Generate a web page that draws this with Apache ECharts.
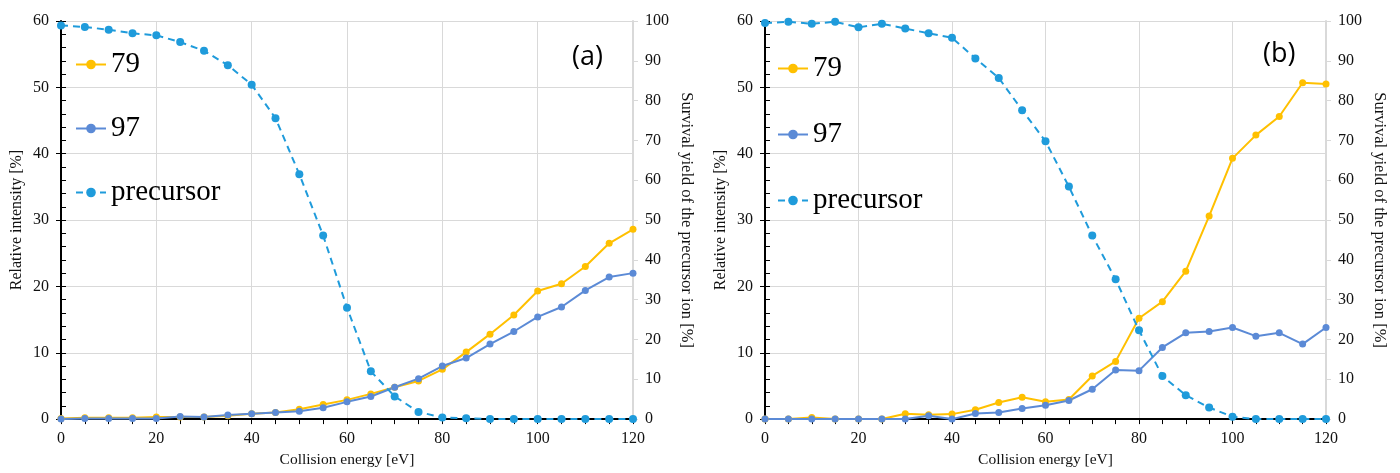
<!DOCTYPE html>
<html>
<head>
<meta charset="utf-8">
<script src="https://cdn.jsdelivr.net/npm/echarts@6/dist/echarts.min.js"></script>
<style>
  html, body { margin: 0; padding: 0; background: #fff; }
  #chart { width: 1400px; height: 473px; }
</style>
</head>
<body>
<div id="chart"></div>
<script>
  // collision energy [eV]
  const energy = [0, 5, 10, 15, 20, 25, 30, 35, 40, 45, 50, 55, 60, 65, 70, 75, 80, 85, 90, 95, 100, 105, 110, 115, 120];

  // panel (a)
  const a79 = [0.1, 0.2, 0.2, 0.2, 0.3, 0.3, 0.3, 0.5, 0.8, 1.0, 1.5, 2.2, 2.9, 3.8, 4.8, 5.75, 7.5, 10.1, 12.8, 15.7, 19.3, 20.4, 23.0, 26.5, 28.6];
  const a97 = [0.0, 0.1, 0.1, 0.1, 0.1, 0.4, 0.3, 0.6, 0.8, 1.0, 1.2, 1.7, 2.6, 3.4, 4.8, 6.1, 8.0, 9.2, 11.3, 13.2, 15.4, 16.9, 19.4, 21.4, 22.0];
  const aPrecursor = [98.9, 98.5, 97.8, 96.9, 96.4, 94.7, 92.5, 88.9, 84.0, 75.6, 61.5, 46.1, 28.0, 12.0, 5.7, 1.8, 0.4, 0.2, 0, 0, 0, 0, 0, 0, 0];

  // panel (b)
  const b79 = [0, 0, 0.25, 0, 0, 0, 0.8, 0.65, 0.75, 1.4, 2.5, 3.3, 2.6, 2.95, 6.5, 8.7, 15.2, 17.7, 22.3, 30.6, 39.3, 42.8, 45.6, 50.7, 50.5];
  const b97 = [0, 0, 0, 0, 0, 0, 0, 0.5, 0, 0.85, 1.0, 1.6, 2.1, 2.8, 4.5, 7.4, 7.3, 10.8, 13.0, 13.2, 13.8, 12.5, 13.0, 11.3, 13.8];
  const bPrecursor = [99.5, 99.8, 99.3, 99.8, 98.4, 99.3, 98.1, 96.9, 95.8, 90.6, 85.7, 77.6, 69.8, 58.4, 46.1, 35.1, 22.3, 10.8, 6.0, 2.9, 0.6, 0, 0, 0, 0];

  const seriesNames = ['79', '97', 'precursor'];
  const colors = ['#ffc000', '#5b8ad6', '#1f9bdb'];

  const serif = 'Liberation Serif';
  const gridColor = '#d9d9d9';

  function pairs(ys) {
    return energy.map((x, i) => [x, ys[i]]);
  }

  function xAxisFor(gridIndex) {
    return {
      type: 'value',
      gridIndex: gridIndex,
      min: 0,
      max: 120,
      interval: 20,
      name: 'Collision energy [eV]',
      nameLocation: 'middle',
      nameGap: 27,
      nameTextStyle: { fontFamily: serif, fontSize: 15.5, color: '#111' },
      axisLine: { show: true, onZero: false, lineStyle: { color: '#000', width: 2 } },
      axisTick: { show: true, length: 5, lineStyle: { color: '#000', width: 1 } },
      minorTick: { show: true, splitNumber: 4, length: 5, lineStyle: { color: '#000', width: 1 } },
      axisLabel: { fontFamily: serif, fontSize: 16, color: '#111', margin: 12 },
      splitLine: { show: true, lineStyle: { color: gridColor, width: 1 } }
    };
  }

  function leftAxisFor(gridIndex) {
    return {
      type: 'value',
      gridIndex: gridIndex,
      position: 'left',
      min: 0,
      max: 60,
      interval: 10,
      name: 'Relative intensity [%]',
      nameLocation: 'middle',
      nameRotate: 90,
      nameGap: 36,
      nameTextStyle: { fontFamily: serif, fontSize: 16, color: '#111' },
      axisLine: { show: true, lineStyle: { color: '#000', width: 2 } },
      axisTick: { show: true, inside: true, length: 5, lineStyle: { color: '#000', width: 1 } },
      minorTick: { show: true, splitNumber: 5, length: 5, lineStyle: { color: '#000', width: 1 } },
      axisLabel: { fontFamily: serif, fontSize: 16, color: '#111', margin: 12 },
      splitLine: { show: true, lineStyle: { color: gridColor, width: 1 } }
    };
  }

  // only the outward half of the major ticks on the left axis
  function leftTickAxisFor(gridIndex) {
    return {
      type: 'value',
      gridIndex: gridIndex,
      position: 'left',
      min: 0,
      max: 60,
      interval: 10,
      axisLine: { show: false },
      axisTick: { show: true, length: 5, lineStyle: { color: '#000', width: 1 } },
      axisLabel: { show: false },
      splitLine: { show: false }
    };
  }

  function rightAxisFor(gridIndex) {
    return {
      type: 'value',
      gridIndex: gridIndex,
      position: 'right',
      min: 0,
      max: 100,
      interval: 10,
      name: 'Survival yield of the precursor ion [%]',
      nameLocation: 'middle',
      nameRotate: -90,
      nameGap: 45,
      nameTextStyle: { fontFamily: serif, fontSize: 16.5, color: '#111' },
      axisLine: { show: true, lineStyle: { color: gridColor, width: 2 } },
      axisTick: { show: true, length: 5, lineStyle: { color: gridColor, width: 1 } },
      axisLabel: { fontFamily: serif, fontSize: 16, color: '#111', margin: 12 },
      splitLine: { show: false }
    };
  }

  function panelSeries(gridIndex, d79, d97, dPre) {
    const yLeft = gridIndex === 0 ? 0 : 2;
    const yRight = yLeft + 1;
    return [
      {
        name: seriesNames[0], type: 'line', xAxisIndex: gridIndex, yAxisIndex: yLeft,
        data: pairs(d79), symbol: 'circle', symbolSize: 7,
        itemStyle: { color: colors[0] }, lineStyle: { color: colors[0], width: 2 }
      },
      {
        name: seriesNames[1], type: 'line', xAxisIndex: gridIndex, yAxisIndex: yLeft,
        data: pairs(d97), symbol: 'circle', symbolSize: 7,
        itemStyle: { color: colors[1] }, lineStyle: { color: colors[1], width: 2 }
      },
      {
        name: seriesNames[2], type: 'line', xAxisIndex: gridIndex, yAxisIndex: yRight,
        data: pairs(dPre), symbol: 'circle', symbolSize: 8,
        itemStyle: { color: colors[2] }, lineStyle: { color: colors[2], width: 2, type: [7, 5] }
      }
    ];
  }

  function legendAt(left, top, gap) {
    return {
      data: seriesNames,
      orient: 'vertical',
      left: left,
      top: top,
      padding: 0,
      itemWidth: 30,
      itemHeight: 12,
      itemGap: gap,
      selectedMode: false,
      textStyle: { fontFamily: serif, fontSize: 29, color: '#000', padding: [0, 0, 0, 0] }
    };
  }

  const chart = echarts.init(document.getElementById('chart'));
  const option = {
    animation: false,
    backgroundColor: '#fff',
    grid: [
      { left: 61, right: 767, top: 21, bottom: 45 },
      { left: 765, right: 74, top: 21, bottom: 45 }
    ],
    legend: [legendAt(75, 50, 35), legendAt(777, 54, 37)],
    xAxis: [xAxisFor(0), xAxisFor(1)],
    yAxis: [leftAxisFor(0), rightAxisFor(0), leftAxisFor(1), rightAxisFor(1), leftTickAxisFor(0), leftTickAxisFor(1)],
    series: panelSeries(0, a79, a97, aPrecursor).concat(panelSeries(1, b79, b97, bPrecursor)),
    graphic: [
      { type: 'text', left: 572, top: 44, style: { text: '(a)', font: '27px "Open Sans", sans-serif', fill: '#000' } },
      { type: 'text', left: 1263, top: 41, style: { text: '(b)', font: '27px "Open Sans", sans-serif', fill: '#000' } }
    ]
  };
  chart.setOption(option);
</script>
</body>
</html>
